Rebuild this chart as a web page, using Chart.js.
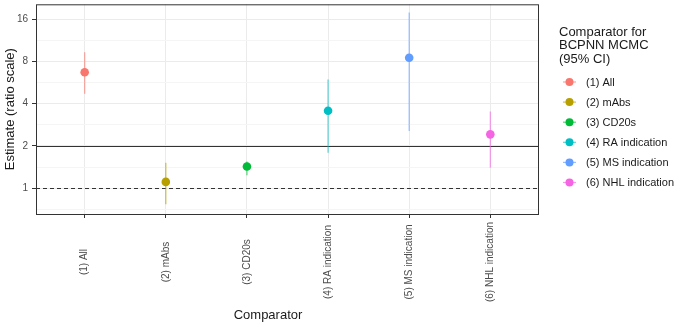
<!DOCTYPE html>
<html>
<head>
<meta charset="utf-8">
<script src="https://cdn.jsdelivr.net/npm/chart.js@4"></script>
<style>
  body { margin: 0; background: #fff; }
  #wrap { width: 676px; height: 324px; }
</style>
</head>
<body>
<div id="wrap"><canvas id="chart" width="676" height="324"></canvas></div>
<script>
const categories = ['(1) All', '(2) mAbs', '(3) CD20s', '(4) RA indication', '(5) MS indication', '(6) NHL indication'];
const estimate = [6.7, 1.11, 1.43, 3.56, 8.5, 2.42];
const lower = [4.7, 0.77, 1.24, 1.79, 2.56, 1.40];
const upper = [9.3, 1.52, 1.55, 5.95, 17.8, 3.52];
const yTicks = [1, 2, 4, 8, 16];
const colors = ['#F8766D', '#B79F00', '#00BA38', '#00BFC4', '#619CFF', '#F564E3'];

const FONT = '"Liberation Sans", Arial, sans-serif';

function alpha(hex, a) {
    let r = parseInt(hex.slice(1, 3), 16), g = parseInt(hex.slice(3, 5), 16), b = parseInt(hex.slice(5, 7), 16);
    return `rgba(${r},${g},${b},${a})`;
}

// minor grid lines halfway (in log space) between the labelled ticks
let minorTicks = [yTicks[0] / Math.SQRT2].concat(yTicks.map(v => v * Math.SQRT2));
let isMajor = v => yTicks.some(t => Math.abs(t - v) < 1e-9);

const extras = {
    id: 'extras',
    beforeDatasetsDraw(chart) {
        let ctx = chart.ctx, x = chart.scales.x, y = chart.scales.y, area = chart.chartArea;
        ctx.save();
        // reference lines
        ctx.strokeStyle = '#333';
        ctx.lineWidth = 1;
        let y2 = Math.round(y.getPixelForValue(2)) + 0.5;
        ctx.beginPath(); ctx.moveTo(area.left, y2); ctx.lineTo(area.right, y2); ctx.stroke();
        let y1 = Math.round(y.getPixelForValue(1)) + 0.5;
        ctx.setLineDash([4, 3]);
        ctx.beginPath(); ctx.moveTo(area.left, y1); ctx.lineTo(area.right, y1); ctx.stroke();
        ctx.setLineDash([]);
        // confidence intervals
        ctx.lineWidth = 1.2;
        categories.forEach((c, i) => {
            let px = x.getPixelForValue(i + 1);
            ctx.strokeStyle = alpha(colors[i], 0.65);
            ctx.beginPath();
            ctx.moveTo(px, y.getPixelForValue(lower[i]));
            ctx.lineTo(px, y.getPixelForValue(upper[i]));
            ctx.stroke();
        });
        ctx.restore();
    },
    afterDraw(chart) {
        let ctx = chart.ctx, x = chart.scales.x, area = chart.chartArea;
        ctx.save();
        // panel border
        ctx.strokeStyle = '#333';
        ctx.lineWidth = 1;
        ctx.strokeRect(area.left + 0.5, area.top + 0.5, area.right - area.left - 1, area.bottom - area.top);
        // x tick labels, rotated and centred
        ctx.fillStyle = '#4d4d4d';
        ctx.font = '10px ' + FONT;
        ctx.textAlign = 'center';
        ctx.textBaseline = 'middle';
        categories.forEach((c, i) => {
            ctx.save();
            ctx.translate(x.getPixelForValue(i + 1), 262);
            ctx.rotate(-Math.PI / 2);
            ctx.fillText(c, 0, 0);
            ctx.restore();
        });
        // axis titles
        ctx.fillStyle = '#1a1a1a';
        ctx.font = '13px ' + FONT;
        ctx.fillText('Comparator', 268, 315);
        ctx.save();
        ctx.translate(10, (area.top + area.bottom) / 2);
        ctx.rotate(-Math.PI / 2);
        ctx.fillText('Estimate (ratio scale)', 0, 0);
        ctx.restore();
        // legend
        ctx.textAlign = 'left';
        ctx.fillText('Comparator for', 559, 32);
        ctx.fillText('BCPNN MCMC', 559, 45.5);
        ctx.fillText('(95% CI)', 559, 59);
        ctx.font = '11px ' + FONT;
        categories.forEach((c, i) => {
            let cy = 82 + i * 20.1;
            ctx.strokeStyle = alpha(colors[i], 0.65);
            ctx.lineWidth = 1.2;
            ctx.beginPath(); ctx.moveTo(563, cy); ctx.lineTo(576, cy); ctx.stroke();
            ctx.fillStyle = colors[i];
            ctx.beginPath(); ctx.arc(569.5, cy, 4, 0, Math.PI * 2); ctx.fill();
            ctx.fillStyle = '#1a1a1a';
            ctx.fillText(c, 586, cy + 0.5);
        });
        ctx.restore();
    }
};

new Chart(document.getElementById('chart'), {
    type: 'scatter',
    data: {
        datasets: categories.map((c, i) => ({
            label: c,
            data: [{ x: i + 1, y: estimate[i] }],
            backgroundColor: colors[i],
            borderColor: colors[i],
            pointRadius: 4.3,
            pointHoverRadius: 4.3,
            borderWidth: 0
        }))
    },
    options: {
        responsive: false,
        animation: false,
        layout: { padding: { top: 2, right: 137, left: 0, bottom: 0 } },
        plugins: { legend: { display: false }, tooltip: { enabled: false } },
        scales: {
            x: {
                type: 'linear',
                min: 0.4,
                max: 6.6,
                afterBuildTicks: s => { s.ticks = categories.map((c, i) => ({ value: i + 1 })); },
                afterFit: s => { s.height = 110; s.paddingLeft = 0; s.paddingRight = 0; },
                ticks: { display: false },
                border: { display: false },
                grid: { color: '#ebebeb', lineWidth: 1, tickLength: 4, tickColor: '#333' }
            },
            y: {
                type: 'logarithmic',
                min: 0.656,
                max: 20.4,
                afterBuildTicks: s => {
                    s.ticks = yTicks.concat(minorTicks).sort((a, b) => a - b)
                        .filter(v => v >= 0.656 && v <= 20.4).map(v => ({ value: v }));
                },
                afterFit: s => { s.width = 36; s.paddingTop = 0; s.paddingBottom = 0; },
                border: { display: false },
                ticks: {
                    autoSkip: false,
                    padding: 4,
                    color: '#4d4d4d',
                    font: { size: 10, family: FONT },
                    callback: v => isMajor(v) ? String(v) : ''
                },
                grid: {
                    color: c => isMajor(c.tick.value) ? '#ebebeb' : '#f5f5f5',
                    lineWidth: 1,
                    tickLength: 4,
                    tickColor: c => isMajor(c.tick.value) ? '#333' : 'rgba(0,0,0,0)'
                }
            }
        }
    },
    plugins: [extras]
});
</script>
</body>
</html>
